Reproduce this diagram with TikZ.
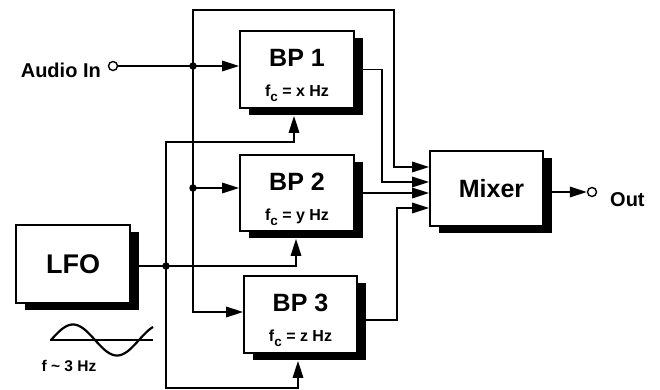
\documentclass[tikz,border=0pt]{standalone}
\usepackage{fontspec}
\setmainfont{Liberation Sans}
\usetikzlibrary{arrows.meta,shadows}
\begin{document}
\begin{tikzpicture}[x=1pt,y=-1pt,
  ln/.style={line width=1.7pt},
  tip/.tip={Triangle[length=17pt,width=10.5pt]},
  arr/.style={ln,-tip},
  arrboth/.style={ln,tip-tip},
  blk/.style={draw,line width=1.8pt,fill=white,
    drop shadow={shadow xshift=8.5pt,shadow yshift=-7pt,fill=black,opacity=1},
    font=\bfseries\fontsize{25}{25}\selectfont,align=center,inner sep=0pt},
  dotn/.style={circle,fill=black,inner sep=0pt,minimum size=7.5pt},
  term/.style={circle,draw,line width=1.4pt,fill=white,inner sep=0pt,minimum size=9pt},
  lbl/.style={font=\bfseries\fontsize{20}{20}\selectfont,inner sep=0pt},
  small/.style={font=\bfseries\fontsize{15.5}{15.5}\selectfont,inner sep=0pt}
]
\useasboundingbox (0,0) rectangle (660,390);
\newcommand{\fcl}[1]{{\fontsize{16}{16}\selectfont f\raisebox{-5pt}{\fontsize{13.5}{13.5}\selectfont c} = #1 Hz}}
\newcommand{\topstrut}{\rule{0pt}{30pt}}

% blocks
\node[blk,minimum width=114pt,minimum height=77pt] (bp1) at (297,69.5) {\topstrut BP 1\\[5pt]\fcl{x}};
\node[blk,minimum width=114pt,minimum height=76pt] (bp2) at (297,193) {\topstrut BP 2\\[5pt]\fcl{y}};
\node[blk,minimum width=113pt,minimum height=77pt] (bp3) at (300.5,314.5) {\topstrut BP 3\\[5pt]\fcl{z}};
\node[blk,minimum width=113pt,minimum height=75pt] (mixer) at (486.5,188.5) {\hspace*{10pt}Mixer};
\node[blk,minimum width=114pt,minimum height=78pt,font=\bfseries\fontsize{27}{27}\selectfont] (lfo) at (73,264) {LFO};

% terminals and labels
\node[term] (ain) at (113,66) {};
\node[lbl,anchor=east] (ainl) at (101,70) {Audio In};
\node[term] (out) at (592,192) {};
\node[lbl,anchor=west] (outl) at (610,200) {Out};
\node[small] (fl) at (69,366) {f \textasciitilde{} 3 Hz};

% routing points
\coordinate (j1) at (193,66);
\coordinate (j2) at (193,188);
\coordinate (j3) at (193,312);
\coordinate (t1) at (193,10);
\coordinate (t2) at (394,10);
\coordinate (m1) at (394,167);
\coordinate (k0) at (166,142);
\coordinate (k1) at (166,266);
\coordinate (k3) at (166,388);
\coordinate (b1) at (294,142);
\coordinate (b2) at (296,266);
\coordinate (b3) at (298,388);
\coordinate (s1) at ([yshift=-7pt]bp1.south);
\coordinate (s2) at ([yshift=-7pt]bp2.south);
\coordinate (s3) at ([yshift=-7pt]bp3.south);
\coordinate (c1) at (382,182);
\coordinate (c3) at (397,208);

% audio distribution
\draw[arr] (ain) -- (j1) -- (j1 -| bp1.west);
\draw[arr] (j2) -- (j2 -| bp2.west);
\draw[arrboth] (j3 -| bp3.west) -- (j3) -- (t1) -- (t2) -- (m1) -- (m1 -| mixer.west);

% LFO distribution
\draw[arrboth] (b1 |- s1) -- (b1) -- (k0) -- (k3) -- (b3) -- (b3 |- s3);
\draw[arr] (lfo.east |- k1) -- (k1) -- (b2) -- (b2 |- s2);

% filter outputs
\draw[arr] (bp1.east) -| (c1) -- (c1 -| mixer.west);
\draw[arr] (bp2.east) -- (bp2.east -| mixer.west);
\draw[arr] ([yshift=-5.5pt]bp3.east) -| (c3) -- (c3 -| mixer.west);

% output
\draw[arr] ([yshift=-3.5pt]mixer.east) -- (out);

% junction dots
\node[dotn] (d1) at (j1) {};
\node[dotn] (d2) at (j2) {};
\node[dotn] (d3) at (k1) {};

% sine symbol
\draw[line width=1.3pt] (50,340) -- (153,340);
\draw[line width=2.2pt] plot[domain=0:102,samples=80,smooth] ({51+\x},{340-15.5*sin(\x*4.0909)});
\end{tikzpicture}
\end{document}
